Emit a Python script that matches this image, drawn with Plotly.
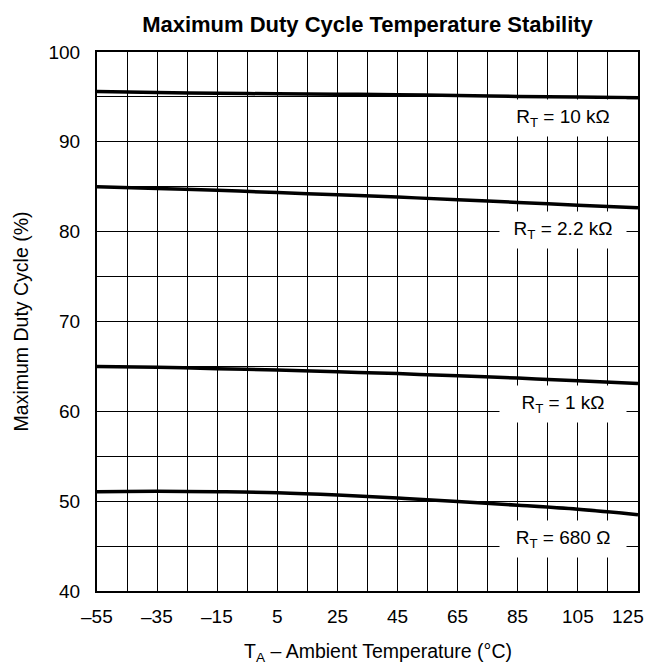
import plotly.graph_objects as go

# ---- data ----
temps = [-55, -35, -15, 5, 25, 45, 65, 85, 105, 125]
rt_10k = [95.6, 95.5, 95.4, 95.35, 95.3, 95.25, 95.15, 95.05, 95.0, 94.9]
rt_2k2 = [85.0, 84.8, 84.6, 84.35, 84.1, 83.85, 83.55, 83.25, 82.95, 82.65]
rt_1k = [65.0, 64.9, 64.75, 64.6, 64.4, 64.2, 63.95, 63.7, 63.4, 63.1]
rt_680 = [51.05, 51.1, 51.05, 50.95, 50.7, 50.35, 49.95, 49.55, 49.1, 48.5]

series = [rt_10k, rt_2k2, rt_1k, rt_680]
label_texts = ["R<sub>T</sub> = 10 kΩ", "R<sub>T</sub> = 2.2 kΩ",
               "R<sub>T</sub> = 1 kΩ", "R<sub>T</sub> = 680 Ω"]
label_x = 100
label_y = [92.6, 80.2, 60.8, 45.8]

x_tickvals = [-55, -35, -15, 5, 25, 45, 65, 85, 105, 125]
x_ticktext = ["–55", "–35", "–15", "5", "25", "45", "65", "85", "105", "125"]
y_tickvals = [40, 50, 60, 70, 80, 90, 100]
y_ticktext = ["40", "50", "60", "70", "80", "90", "100"]

FONT = "Liberation Sans, Arial, sans-serif"

# page body has an 8px default margin: shrink figure so plot lands where the reference has it
OFF = 8
W, H = 655 - OFF, 665 - OFF
L, R, T, B = 97 - OFF, 17, 52 - OFF, 74

fig = go.Figure()
for s in series:
    fig.add_trace(go.Scatter(x=temps, y=s, mode="lines",
                             line=dict(color="black", width=3.5, shape="spline"),
                             showlegend=False, hoverinfo="skip"))

for txt, yy in zip(label_texts, label_y):
    fig.add_annotation(x=label_x, y=yy, text=txt, showarrow=False,
                       bgcolor="white", width=126, height=36, borderpad=0,
                       font=dict(family=FONT, size=19, color="black"),
                       xanchor="center", yanchor="middle")

# x tick labels (last one pulled inward, as in the reference)
for v, t in zip(x_tickvals, x_ticktext):
    fig.add_annotation(x=v, y=0, yref="paper", text=t, showarrow=False,
                       xanchor="center", yanchor="top", borderpad=0,
                       xshift=-10 if v == x_tickvals[-1] else 0, yshift=-14,
                       font=dict(family=FONT, size=19, color="black"))

# x axis title
fig.add_annotation(x=(378 - OFF - L) / (W - L - R), y=0, xref="paper", yref="paper",
                   text="T<sub>A</sub> – Ambient Temperature (°C)", showarrow=False,
                   xanchor="center", yanchor="top", borderpad=0, yshift=-48,
                   font=dict(family=FONT, size=19.5, color="black"))

axis_common = dict(showline=True, mirror=True, linecolor="black", linewidth=2,
                   showgrid=True, gridcolor="black", gridwidth=1.3,
                   zeroline=False, ticks="", automargin=False,
                   tickfont=dict(family=FONT, size=19, color="black"))

fig.update_layout(
    width=W, height=H,
    margin=dict(l=L, r=R, t=T, b=B),
    paper_bgcolor="white", plot_bgcolor="white",
    title=dict(text="<b>Maximum Duty Cycle Temperature Stability</b>",
               x=(367.5 - OFF) / W, xanchor="center",
               y=1 - (24 - OFF) / H, yanchor="middle", yref="container",
               font=dict(family=FONT, size=22, color="black")),
    xaxis=dict(range=[-55, 125], tickmode="linear", tick0=-55, dtick=10,
               showticklabels=False, **axis_common),
    yaxis=dict(range=[40, 100], tickmode="array", tickvals=y_tickvals, ticktext=y_ticktext,
               minor=dict(tick0=40, dtick=5, showgrid=True, gridcolor="black",
                          gridwidth=1.3, ticks=""),
               ticklabelstandoff=11,
               title=dict(text="Maximum Duty Cycle (%)",
                          font=dict(family=FONT, size=19.5, color="black"), standoff=15),
               **axis_common),
)

fig.write_html("out.html")
